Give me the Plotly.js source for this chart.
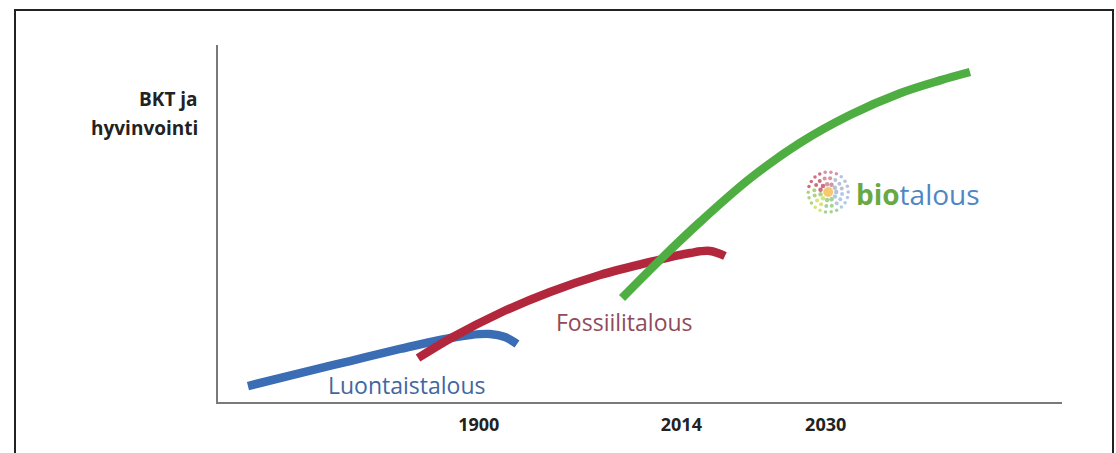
<!DOCTYPE html>
<html><head><meta charset="utf-8">
<script src="https://cdn.plot.ly/plotly-3.0.1.min.js"></script>
<style>
html,body{margin:0;padding:0;background:#fff;overflow:hidden}
#chart{width:1116px;height:453px}
#frame{position:absolute;left:14px;top:9px;width:1096px;height:520px;border:2px solid #222;border-bottom:none;pointer-events:none}
</style></head><body>
<div id="chart"></div><div id="frame"></div>
<script>
// Abstract time axis (0-100) and welfare axis (0-100)
const luontX = [3.55, 9.72, 15.64, 21.56, 26.30, 29.86, 32.23, 34.0, 35.43];
const luontY = [4.48, 8.12, 11.48, 14.85, 17.37, 18.77, 19.05, 18.21, 16.25];
const fossX = [23.70, 27.84, 33.41, 39.34, 45.26, 51.18, 55.92, 58.29, 60.07];
const fossY = [12.32, 18.21, 24.93, 30.81, 35.57, 39.22, 41.74, 42.30, 40.90];
const bioX = [47.87, 52.61, 57.11, 63.03, 68.96, 74.88, 80.81, 85.55, 89.10];
const bioY = [29.13, 40.34, 50.42, 62.60, 72.60, 80.40, 86.50, 90.10, 92.44];
const tickVals = [30.9, 54.9, 72.0];
const tickText = ['1900', '2014', '2030'];

const W = 1116, H = 453;
const L = 218, R = 54, T = 45, B = 51;
const pxX = (W - L - R) / 100, pxY = (H - T - B) / 100;

const traces = [
  {x: luontX, y: luontY, mode: 'lines', line: {color: '#3a6db4', width: 8.5, shape: 'spline', smoothing: 1}, hoverinfo: 'skip'},
  {x: fossX, y: fossY, mode: 'lines', line: {color: '#b3273d', width: 8.5, shape: 'spline', smoothing: 1}, hoverinfo: 'skip'},
  {x: bioX, y: bioY, mode: 'lines', line: {color: '#4fae41', width: 8.5, shape: 'spline', smoothing: 1}, hoverinfo: 'skip'}
];

// decorative sun logo next to "biotalous"
const logoCx = 72.3, logoCy = 58.8;
const lx = [logoCx], ly = [logoCy], lc = ['#f2b233'], ls = [10];
const rings = [[8, 11, 4.5], [14, 16, 4], [20, 22, 3.5]];
function colAt(a) {
  const d = ((a * 180 / Math.PI) % 360 + 360) % 360;
  if (d < 60) return '#9aa6c8';
  if (d < 110) return '#c9657a';
  if (d < 170) return '#b8324a';
  if (d < 215) return '#8cc152';
  if (d < 260) return '#c5d844';
  if (d < 300) return '#7fbf6a';
  return '#8fb4dc';
}
rings.forEach(([r, n, s]) => {
  for (let i = 0; i < n; i++) {
    const a = i / n * 2 * Math.PI + r;
    lx.push(logoCx + r * Math.cos(a) / pxX);
    ly.push(logoCy + r * Math.sin(a) / pxY);
    lc.push(colAt(a)); ls.push(s);
  }
});
traces.push({x: lx, y: ly, mode: 'markers', marker: {color: lc, size: ls, line: {width: 0}}, hoverinfo: 'skip'});

const font = '"Open Sans", "Noto Sans", sans-serif';
const layout = {
  width: W, height: H,
  margin: {l: L, r: R, t: T, b: B, pad: 0},
  paper_bgcolor: '#ffffff', plot_bgcolor: '#ffffff',
  showlegend: false,
  xaxis: {range: [0, 100], showgrid: false, zeroline: false, showline: true, linecolor: '#7a7a7a', linewidth: 2,
          tickvals: tickVals, ticktext: tickText, ticks: '', ticklabelstandoff: 5,
          tickfont: {family: font, size: 18, color: '#222', weight: 'bold'}, fixedrange: true},
  yaxis: {range: [0, 100], showgrid: false, zeroline: false, showline: true, linecolor: '#7a7a7a', linewidth: 2,
          showticklabels: false, ticks: '', fixedrange: true},
  annotations: [
    {xref: 'paper', yref: 'paper', x: -0.021, y: (H - B - 99) / (H - T - B), xanchor: 'right', yanchor: 'middle', showarrow: false,
     text: '<b>BKT ja</b>', font: {family: font, size: 19, color: '#222'}},
    {xref: 'paper', yref: 'paper', x: -0.021, y: (H - B - 128) / (H - T - B), xanchor: 'right', yanchor: 'middle', showarrow: false,
     text: '<b>hyvinvointi</b>', font: {family: font, size: 19, color: '#222'}},
    {x: 22.4, y: 4.8, showarrow: false, xanchor: 'center', yanchor: 'middle',
     text: 'Luontaistalous', font: {family: font, size: 23, color: '#41679f'}},
    {x: 48.2, y: 22.4, showarrow: false, xanchor: 'center', yanchor: 'middle',
     text: 'Fossiilitalous', font: {family: font, size: 23, color: '#8f4a5c'}},
    {x: 75.4, y: 58.4, showarrow: false, xanchor: 'left', yanchor: 'middle',
     text: '<b><span style="color:#6aa845">bio</span></b><span style="color:#4f86c3">talous</span>',
     font: {family: font, size: 28, color: '#4f86c3'}}
  ]
};
Plotly.newPlot('chart', traces, layout, {staticPlot: true, displayModeBar: false});
</script></body></html>
